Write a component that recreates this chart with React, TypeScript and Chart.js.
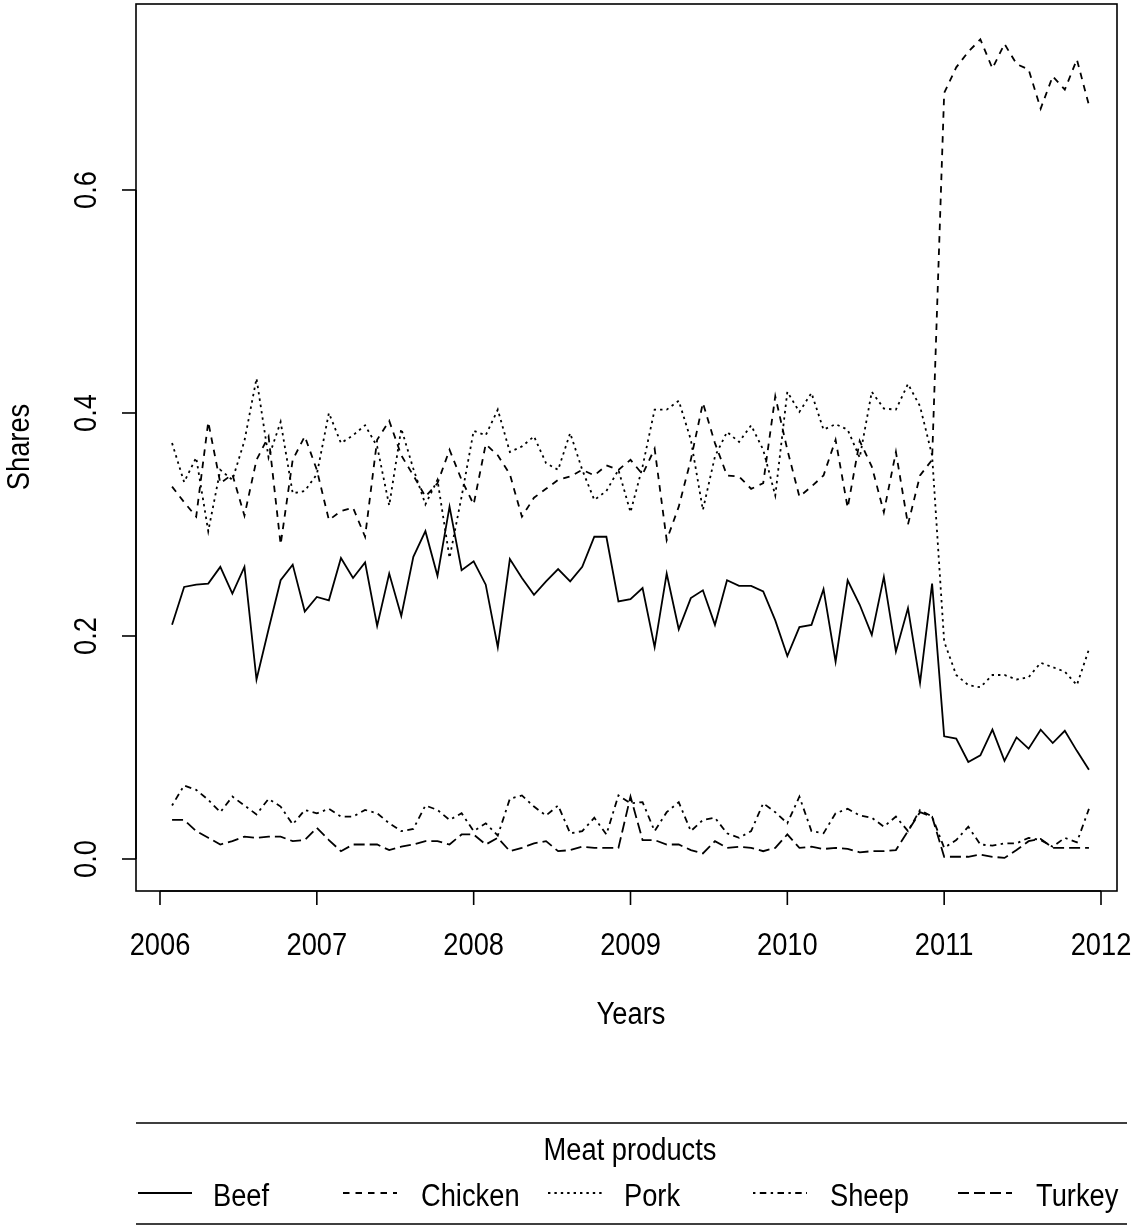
import React, { useEffect, useRef } from "react";
import { Chart, registerables } from "chart.js";

Chart.register(...registerables);

// Four-weekly periods: 13 per year, first point at 2006 + 1/13
const startYear = 2006;
const periodsPerYear = 13;

const beef = [
  0.210, 0.244, 0.246, 0.247, 0.262, 0.238, 0.262, 0.161, 0.206, 0.250, 0.264, 0.222, 0.235,
  0.232, 0.270, 0.252, 0.266, 0.209, 0.256, 0.218, 0.271, 0.294, 0.254, 0.316, 0.259, 0.267,
  0.246, 0.190, 0.269, 0.252, 0.237, 0.249, 0.260, 0.249, 0.262, 0.289, 0.289, 0.231, 0.233,
  0.243, 0.190, 0.256, 0.206, 0.234, 0.241, 0.210, 0.250, 0.245, 0.245, 0.240, 0.214, 0.182,
  0.208, 0.210, 0.242, 0.177, 0.250, 0.228, 0.201, 0.253, 0.186, 0.225, 0.158, 0.247, 0.110,
  0.108, 0.087, 0.093, 0.116, 0.088, 0.109, 0.099, 0.116, 0.104, 0.115, 0.097, 0.080,
];

const chicken = [
  0.334, 0.320, 0.307, 0.392, 0.337, 0.345, 0.308, 0.358, 0.379, 0.282, 0.358, 0.379, 0.349,
  0.304, 0.312, 0.315, 0.289, 0.376, 0.393, 0.362, 0.344, 0.325, 0.337, 0.367, 0.340, 0.318,
  0.372, 0.362, 0.345, 0.307, 0.324, 0.332, 0.340, 0.343, 0.349, 0.344, 0.353, 0.349, 0.358,
  0.345, 0.368, 0.286, 0.316, 0.358, 0.409, 0.373, 0.344, 0.343, 0.332, 0.337, 0.415, 0.367,
  0.325, 0.334, 0.344, 0.376, 0.315, 0.375, 0.352, 0.311, 0.365, 0.300, 0.344, 0.358, 0.687,
  0.710, 0.724, 0.735, 0.709, 0.731, 0.713, 0.708, 0.673, 0.702, 0.690, 0.717, 0.676,
];

const pork = [
  0.373, 0.338, 0.360, 0.294, 0.349, 0.340, 0.375, 0.431, 0.360, 0.392, 0.328, 0.330, 0.345,
  0.400, 0.373, 0.380, 0.389, 0.370, 0.317, 0.386, 0.350, 0.318, 0.340, 0.270, 0.325, 0.384,
  0.380, 0.403, 0.365, 0.370, 0.379, 0.355, 0.349, 0.382, 0.349, 0.322, 0.330, 0.349, 0.311,
  0.352, 0.403, 0.403, 0.411, 0.376, 0.313, 0.361, 0.383, 0.374, 0.389, 0.367, 0.326, 0.419,
  0.401, 0.418, 0.385, 0.390, 0.385, 0.360, 0.419, 0.404, 0.403, 0.426, 0.406, 0.362, 0.195,
  0.165, 0.156, 0.154, 0.165, 0.165, 0.161, 0.163, 0.176, 0.172, 0.168, 0.156, 0.188,
];

const sheep = [
  0.048, 0.066, 0.062, 0.053, 0.042, 0.056, 0.048, 0.040, 0.054, 0.047, 0.031, 0.044, 0.041,
  0.045, 0.038, 0.038, 0.044, 0.041, 0.032, 0.025, 0.027, 0.048, 0.044, 0.035, 0.041, 0.025,
  0.032, 0.021, 0.054, 0.057, 0.047, 0.039, 0.048, 0.023, 0.025, 0.037, 0.022, 0.057, 0.050,
  0.051, 0.025, 0.042, 0.051, 0.025, 0.035, 0.037, 0.023, 0.019, 0.025, 0.050, 0.042, 0.032,
  0.056, 0.025, 0.023, 0.041, 0.045, 0.039, 0.037, 0.029, 0.038, 0.025, 0.044, 0.038, 0.010,
  0.017, 0.029, 0.013, 0.012, 0.014, 0.014, 0.019, 0.017, 0.011, 0.019, 0.015, 0.045,
];

const turkey = [
  0.035, 0.035, 0.025, 0.019, 0.013, 0.016, 0.020, 0.019, 0.020, 0.020, 0.016, 0.017, 0.028,
  0.017, 0.007, 0.013, 0.013, 0.013, 0.008, 0.011, 0.013, 0.016, 0.016, 0.013, 0.022, 0.022,
  0.013, 0.019, 0.007, 0.010, 0.014, 0.016, 0.007, 0.008, 0.011, 0.010, 0.010, 0.010, 0.056,
  0.017, 0.017, 0.013, 0.013, 0.008, 0.005, 0.016, 0.010, 0.011, 0.010, 0.007, 0.010, 0.022,
  0.010, 0.011, 0.009, 0.010, 0.009, 0.006, 0.007, 0.007, 0.008, 0.025, 0.042, 0.038, 0.002,
  0.002, 0.002, 0.004, 0.002, 0.001, 0.008, 0.016, 0.018, 0.010, 0.010, 0.010, 0.010,
];

const seriesNames = ["Beef", "Chicken", "Pork", "Sheep", "Turkey"];
const seriesValues = [beef, chicken, pork, sheep, turkey];
// R line types: solid, dashed, dotted, dotdash, longdash (scaled)
const seriesDash: number[][] = [[], [6.5, 6], [2.4, 4], [2.4, 4.4, 6.5, 4.4], [11, 5]];

const xTicks = [2006, 2007, 2008, 2009, 2010, 2011, 2012];
const yTicks = [0, 0.2, 0.4, 0.6];
const yTickLabels = ["0.0", "0.2", "0.4", "0.6"];

const xTitle = "Years";
const yTitle = "Shares";
const legendTitle = "Meat products";

const FONT_SIZE = 31;
const FONT = `${FONT_SIZE}px "Liberation Sans", Arial, sans-serif`;
const SX = 0.88;
const LINE_W = 1.8;

function drawText(
  ctx: CanvasRenderingContext2D,
  text: string,
  x: number,
  y: number,
  align: CanvasTextAlign,
  rotate = 0
) {
  ctx.save();
  ctx.translate(x, y);
  if (rotate) ctx.rotate(rotate);
  ctx.scale(SX, 1);
  ctx.font = FONT;
  ctx.fillStyle = "#000";
  ctx.textAlign = align;
  ctx.textBaseline = "alphabetic";
  ctx.fillText(text, 0, 0);
  ctx.restore();
}

const rAxesPlugin = {
  id: "rAxes",
  afterDraw(chart: any) {
    const ctx: CanvasRenderingContext2D = chart.ctx;
    const { left, right, top, bottom } = chart.chartArea;
    const xs = chart.scales.x;
    const ys = chart.scales.y;
    ctx.save();
    ctx.strokeStyle = "#000";
    ctx.lineWidth = 1.6;
    ctx.setLineDash([]);
    ctx.strokeRect(left, top, right - left, bottom - top);

    // x axis
    const x0 = xs.getPixelForValue(xTicks[0]);
    const x1 = xs.getPixelForValue(xTicks[xTicks.length - 1]);
    ctx.beginPath();
    ctx.moveTo(x0, bottom);
    ctx.lineTo(x1, bottom);
    ctx.stroke();
    for (const t of xTicks) {
      const px = xs.getPixelForValue(t);
      ctx.beginPath();
      ctx.moveTo(px, bottom);
      ctx.lineTo(px, bottom + 14);
      ctx.stroke();
      drawText(ctx, String(t), px, 955, "center");
    }

    // y axis
    const y0 = ys.getPixelForValue(yTicks[0]);
    const y1 = ys.getPixelForValue(yTicks[yTicks.length - 1]);
    ctx.beginPath();
    ctx.moveTo(left, y0);
    ctx.lineTo(left, y1);
    ctx.stroke();
    yTicks.forEach((t, i) => {
      const py = ys.getPixelForValue(t);
      ctx.beginPath();
      ctx.moveTo(left, py);
      ctx.lineTo(left - 14, py);
      ctx.stroke();
      drawText(ctx, yTickLabels[i], 96, py, "center", -Math.PI / 2);
    });

    // titles
    drawText(ctx, xTitle, 631, 1024, "center");
    drawText(ctx, yTitle, 29, 447, "center", -Math.PI / 2);

    // legend box lines
    ctx.lineWidth = 1.6;
    ctx.beginPath();
    ctx.moveTo(136, 1123);
    ctx.lineTo(1127, 1123);
    ctx.moveTo(136, 1224);
    ctx.lineTo(1127, 1224);
    ctx.stroke();
    drawText(ctx, legendTitle, 630, 1160, "center");

    const segStarts = [138, 343, 548, 753, 958];
    const labelStarts = [213, 421, 624, 830, 1036];
    seriesNames.forEach((name, i) => {
      ctx.save();
      ctx.lineWidth = LINE_W;
      ctx.setLineDash(seriesDash[i]);
      ctx.beginPath();
      ctx.moveTo(segStarts[i], 1193);
      ctx.lineTo(segStarts[i] + 54, 1193);
      ctx.stroke();
      ctx.restore();
      drawText(ctx, name, labelStarts[i], 1206, "left");
    });
    ctx.restore();
  },
};

export default function App() {
  const canvasRef = useRef<HTMLCanvasElement | null>(null);

  useEffect(() => {
    if (!canvasRef.current) return;
    const datasets = seriesNames.map((name, i) => ({
      label: name,
      data: seriesValues[i].map((v, k) => ({ x: startYear + (k + 1) / periodsPerYear, y: v })),
      borderColor: "#000",
      backgroundColor: "#000",
      borderWidth: LINE_W,
      borderDash: seriesDash[i],
      pointRadius: 0,
      tension: 0,
      fill: false,
    }));
    const chart = new Chart(canvasRef.current, {
      type: "line",
      data: { datasets },
      options: {
        animation: false,
        responsive: false,
        devicePixelRatio: 1,
        layout: { padding: { left: 136, top: 4, right: 16, bottom: 335 } },
        plugins: { legend: { display: false }, tooltip: { enabled: false } },
        scales: {
          x: { type: "linear", min: 2005.847, max: 2012.102, display: false },
          y: { type: "linear", min: -0.0287, max: 0.7668, display: false },
        },
      },
      plugins: [rAxesPlugin],
    });
    return () => chart.destroy();
  }, []);

  return (
    <div style={{ position: "absolute", left: 0, top: 0, width: 1133, height: 1226, background: "#fff" }}>
      <canvas ref={canvasRef} width={1133} height={1226} />
    </div>
  );
}
